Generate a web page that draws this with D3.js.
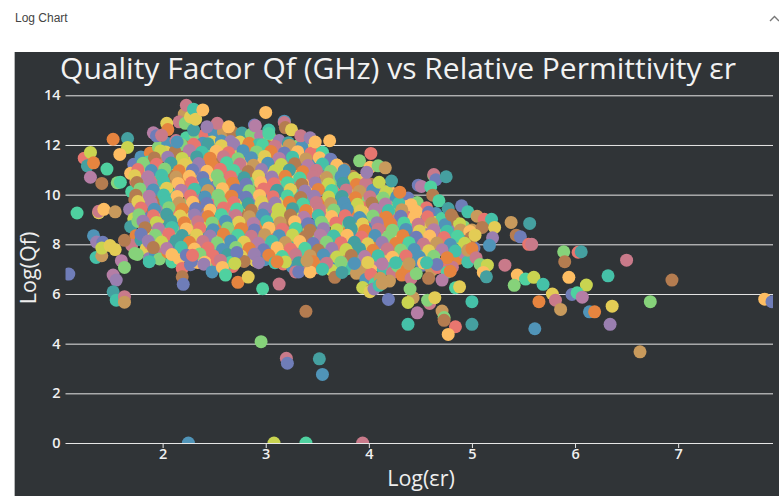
<!DOCTYPE html>
<html><head><meta charset="utf-8">
<script src="https://cdnjs.cloudflare.com/ajax/libs/d3/7.8.5/d3.min.js"></script>
<style>
html,body{margin:0;padding:0;background:#fff;overflow:hidden}
svg{display:block}
.tick text{font-family:"Open Sans",sans-serif;font-weight:600;font-size:14.5px;fill:#f0f0f0}
.domain{display:none}
</style></head><body>
<div id="chart"></div>
<script>
const chartTitle="Quality Factor Qf (GHz) vs Relative Permittivity εr";
const xLabel="Log(εr)", yLabel="Log(Qf)";
const xTicks=[2,3,4,5,6,7], yTicks=[0,2,4,6,8,10,12,14];
const palette=["#e8766f","#c97a8a","#b57ea5","#9a7fb0","#6f7db8","#5094b8","#45a0a0","#45c1a8","#4fd1a0","#86d27a","#c9d450","#e3cc55","#fdbd62","#e6843f","#b47c50","#c89a5c"];
const toneCycle=[4,12,0,8,14,3,10,6,13,1,9,5,11,2,7,15,12,4,9,0,6,11,3,13,8,1,15,5,10,14,2,7,12,0,5,9,13];
// dense body of the cloud: [log er, log Qf]
const cloud=[
[1.72,11.22],[1.69,10.86],[1.74,10.51],[1.70,10.12],[1.73,9.78],[1.68,9.41],[1.72,9.03],[1.69,8.71],[1.74,8.34],[1.70,7.96],[1.73,7.63],
[1.79,11.52],[1.81,11.13],[1.77,10.79],[1.80,10.38],[1.83,10.02],[1.78,9.66],[1.81,9.28],[1.76,8.92],[1.82,8.55],[1.79,8.18],[1.84,7.82],[1.87,7.43],
[1.88,11.68],[1.86,11.31],[1.91,10.94],[1.87,10.61],[1.90,10.23],[1.85,9.87],[1.89,9.49],[1.92,9.12],[1.87,8.76],[1.91,8.37],[1.88,8.02],[1.93,7.62],
[1.96,11.91],[1.98,11.56],[1.94,11.18],[1.99,10.82],[1.95,10.47],[1.98,10.09],[1.94,9.73],[2.00,9.34],[1.96,8.98],[1.99,8.61],[1.95,8.24],[2.00,7.86],[1.97,7.41],
[2.05,12.06],[2.03,11.72],[2.07,11.36],[2.04,11.01],[2.08,10.63],[2.03,10.27],[2.06,9.91],[2.09,9.53],[2.04,9.17],[2.07,8.79],[2.03,8.42],[2.08,8.06],[2.05,7.68],[2.09,7.29],
[2.13,12.18],[2.16,11.83],[2.12,11.47],[2.15,11.09],[2.11,10.74],[2.17,10.38],[2.13,10.01],[2.16,9.64],[2.12,9.26],[2.15,8.88],[2.11,8.53],[2.17,8.17],[2.13,7.79],[2.16,7.42],[2.19,7.03],
[2.23,12.29],[2.21,11.94],[2.25,11.58],[2.22,11.22],[2.26,10.86],[2.20,10.49],[2.24,10.12],[2.27,9.77],[2.21,9.39],[2.25,9.02],[2.22,8.64],[2.26,8.28],[2.20,7.91],[2.24,7.53],[2.27,7.18],
[2.32,12.38],[2.30,12.03],[2.34,11.67],[2.29,11.31],[2.33,10.93],[2.36,10.57],[2.30,10.21],[2.34,9.83],[2.31,9.46],[2.35,9.11],[2.29,8.73],[2.33,8.37],[2.36,7.98],[2.30,7.63],[2.34,7.27],
[2.41,12.42],[2.39,12.07],[2.43,11.73],[2.40,11.36],[2.44,10.99],[2.38,10.64],[2.42,10.26],[2.45,9.91],[2.39,9.54],[2.43,9.17],[2.40,8.81],[2.44,8.42],[2.38,8.07],[2.42,7.71],[2.45,7.33],
[2.50,12.48],[2.48,12.12],[2.52,11.77],[2.49,11.41],[2.53,11.04],[2.47,10.68],[2.51,10.31],[2.54,9.94],[2.48,9.58],[2.52,9.21],[2.49,8.84],[2.53,8.47],[2.47,8.11],[2.51,7.76],[2.54,7.39],
[2.59,12.52],[2.57,12.16],[2.61,11.81],[2.58,11.44],[2.62,11.08],[2.56,10.71],[2.60,10.36],[2.63,9.98],[2.57,9.62],[2.61,9.26],[2.58,8.88],[2.62,8.52],[2.56,8.16],[2.60,7.79],[2.63,7.43],
[2.68,12.51],[2.66,12.14],[2.70,11.79],[2.67,11.42],[2.71,11.06],[2.65,10.69],[2.69,10.34],[2.72,9.97],[2.66,9.61],[2.70,9.24],[2.67,8.87],[2.71,8.51],[2.65,8.13],[2.69,7.77],[2.72,7.41],[2.68,7.11],
[2.77,12.48],[2.75,12.12],[2.79,11.76],[2.76,11.39],[2.80,11.03],[2.74,10.66],[2.78,10.31],[2.81,9.94],[2.75,9.57],[2.79,9.22],[2.76,8.84],[2.80,8.48],[2.74,8.12],[2.78,7.74],[2.81,7.38],
[2.86,12.43],[2.84,12.07],[2.88,11.71],[2.85,11.36],[2.89,10.98],[2.83,10.62],[2.87,10.26],[2.90,9.89],[2.84,9.53],[2.88,9.16],[2.85,8.79],[2.89,8.43],[2.83,8.07],[2.87,7.71],[2.90,7.34],
[2.95,12.36],[2.93,12.01],[2.97,11.64],[2.94,11.28],[2.98,10.92],[2.92,10.56],[2.96,10.19],[2.99,9.82],[2.93,9.46],[2.97,9.09],[2.94,8.73],[2.98,8.36],[2.92,8.01],[2.96,7.63],[2.99,7.38],
[3.04,12.31],[3.02,11.94],[3.06,11.58],[3.03,11.22],[3.07,10.86],[3.01,10.49],[3.05,10.13],[3.08,9.76],[3.02,9.39],[3.06,9.03],[3.03,8.67],[3.07,8.31],[3.01,7.94],[3.05,7.58],
[3.13,12.18],[3.11,11.83],[3.15,11.47],[3.12,11.11],[3.16,10.74],[3.10,10.38],[3.14,10.02],[3.17,9.66],[3.11,9.29],[3.15,8.92],[3.12,8.56],[3.16,8.19],[3.10,7.83],[3.14,7.47],[3.17,7.21],
[3.22,12.09],[3.20,11.73],[3.24,11.36],[3.21,11.01],[3.25,10.64],[3.19,10.28],[3.23,9.91],[3.26,9.54],[3.20,9.18],[3.24,8.82],[3.21,8.46],[3.25,8.09],[3.19,7.72],[3.23,7.36],[3.26,7.08],
[3.31,11.96],[3.29,11.59],[3.33,11.23],[3.30,10.87],[3.34,10.51],[3.28,10.14],[3.32,9.77],[3.35,9.41],[3.29,9.04],[3.33,8.68],[3.30,8.32],[3.34,7.96],[3.28,7.59],[3.32,7.23],
[3.40,11.88],[3.38,11.49],[3.42,11.13],[3.39,10.77],[3.43,10.41],[3.37,10.04],[3.41,9.68],[3.44,9.31],[3.38,8.96],[3.42,8.59],[3.39,8.22],[3.43,7.86],[3.37,7.49],[3.41,7.18],
[3.49,11.63],[3.47,11.28],[3.51,10.92],[3.48,10.55],[3.52,10.19],[3.46,9.83],[3.50,9.46],[3.53,9.11],[3.47,8.73],[3.51,8.37],[3.48,8.01],[3.52,7.64],[3.46,7.28],[3.50,7.06],
[3.58,11.49],[3.56,11.12],[3.60,10.76],[3.57,10.39],[3.61,10.03],[3.55,9.67],[3.59,9.31],[3.62,8.94],[3.56,8.58],[3.60,8.21],[3.57,7.85],[3.61,7.49],[3.55,7.13],
[3.67,11.22],[3.65,10.87],[3.69,10.51],[3.66,10.14],[3.70,9.78],[3.64,9.41],[3.68,9.06],[3.71,8.69],[3.65,8.32],[3.69,7.96],[3.66,7.61],[3.70,7.24],[3.64,6.96],
[3.76,11.03],[3.74,10.66],[3.78,10.31],[3.75,9.94],[3.79,9.58],[3.73,9.22],[3.77,8.86],[3.80,8.48],[3.74,8.12],[3.78,7.76],[3.75,7.39],[3.79,7.02],
[3.84,10.74],[3.83,10.37],[3.87,10.02],[3.84,9.66],[3.88,9.29],[3.82,8.93],[3.86,8.57],[3.89,8.21],[3.83,7.84],[3.87,7.47],[3.84,7.11],[3.88,6.83],
[3.93,10.58],[3.92,10.22],[3.96,9.86],[3.93,9.49],[3.97,9.13],[3.91,8.76],[3.95,8.39],[3.98,8.03],[3.92,7.67],[3.96,7.31],[3.93,6.95],[3.97,6.58],[3.94,6.26],
[4.02,10.42],[4.01,10.06],[4.05,9.69],[4.02,9.33],[4.06,8.97],[4.00,8.61],[4.04,8.24],[4.07,7.88],[4.01,7.52],[4.05,7.15],[4.02,6.79],[4.06,6.41],[4.03,6.17],
[4.11,10.26],[4.10,9.89],[4.14,9.53],[4.11,9.17],[4.15,8.81],[4.09,8.44],[4.13,8.07],[4.16,7.71],[4.10,7.36],[4.14,6.99],[4.11,6.63],
[4.20,10.13],[4.19,9.76],[4.23,9.39],[4.20,9.03],[4.24,8.67],[4.18,8.31],[4.22,7.94],[4.25,7.58],[4.19,7.21],[4.23,6.86],[4.20,6.52],
[4.29,10.04],[4.28,9.66],[4.32,9.29],[4.29,8.93],[4.33,8.57],[4.27,8.21],[4.31,7.84],[4.34,7.48],[4.28,7.12],[4.32,6.76],
[4.38,9.86],[4.37,9.52],[4.41,9.16],[4.38,8.79],[4.42,8.43],[4.36,8.07],[4.40,7.71],[4.43,7.34],[4.37,6.98],[4.41,6.63],
[4.47,9.68],[4.46,9.33],[4.50,8.97],[4.47,8.61],[4.51,8.24],[4.45,7.88],[4.49,7.52],[4.52,7.16],[4.46,6.82],
[4.56,9.47],[4.55,9.11],[4.59,8.75],[4.56,8.39],[4.60,8.03],[4.54,7.67],[4.58,7.31],[4.61,6.96],
[4.65,9.24],[4.64,8.88],[4.68,8.52],[4.65,8.16],[4.69,7.79],[4.63,7.43],[4.67,7.07],
[4.74,9.06],[4.73,8.67],[4.77,8.31],[4.74,7.94],[4.78,7.58],[4.72,7.21],[4.76,6.88],
[4.83,8.91],[4.82,8.52],[4.86,8.16],[4.83,7.79],[4.87,7.43],[4.81,7.08],
[4.92,8.71],[4.91,8.36],[4.95,8.02],[4.92,7.66],[4.96,7.29],
[5.00,8.58],[4.99,8.21],[5.02,7.86]
];
// second pass through the same body, read row by row
const cloudRows=[
[2.18,12.02],[2.31,11.98],[2.44,12.05],[2.57,11.97],[2.69,12.03],[2.83,11.96],[2.97,12.01],[3.09,11.95],[3.23,11.99],[3.35,11.93],
[1.98,11.76],[2.12,11.72],[2.26,11.78],[2.38,11.71],[2.52,11.75],[2.64,11.69],[2.78,11.77],[2.91,11.72],[3.05,11.74],[3.18,11.68],[3.31,11.73],[3.44,11.67],[3.55,11.71],
[1.92,11.48],[2.05,11.51],[2.19,11.46],[2.33,11.52],[2.46,11.47],[2.59,11.53],[2.73,11.45],[2.86,11.49],[2.99,11.54],[3.13,11.46],[3.26,11.51],[3.39,11.44],[3.52,11.49],[3.63,11.43],
[1.81,11.26],[1.94,11.22],[2.08,11.27],[2.21,11.21],[2.35,11.25],[2.48,11.19],[2.62,11.28],[2.75,11.23],[2.88,11.18],[3.02,11.26],[3.15,11.21],[3.28,11.24],[3.41,11.17],[3.55,11.23],[3.69,11.19],
[1.76,11.01],[1.89,10.97],[2.02,11.03],[2.16,10.96],[2.29,10.99],[2.43,10.94],[2.56,11.02],[2.69,10.97],[2.83,10.93],[2.96,11.01],[3.09,10.96],[3.23,10.99],[3.36,10.92],[3.49,10.98],[3.63,10.94],[3.76,10.97],
[1.73,10.76],[1.86,10.72],[1.99,10.78],[2.13,10.71],[2.26,10.74],[2.39,10.69],[2.53,10.77],[2.66,10.72],[2.79,10.68],[2.93,10.75],[3.06,10.71],[3.19,10.74],[3.33,10.67],[3.46,10.73],[3.59,10.69],[3.73,10.72],[3.86,10.66],
[1.75,10.49],[1.88,10.46],[2.01,10.52],[2.15,10.45],[2.28,10.48],[2.41,10.43],[2.55,10.51],[2.68,10.46],[2.81,10.42],[2.95,10.49],[3.08,10.44],[3.21,10.48],[3.35,10.41],[3.48,10.47],[3.61,10.43],[3.75,10.46],[3.88,10.41],[3.97,10.44],
[1.78,10.23],[1.91,10.19],[2.04,10.26],[2.18,10.18],[2.31,10.22],[2.44,10.17],[2.58,10.24],[2.71,10.19],[2.84,10.16],[2.98,10.23],[3.11,10.18],[3.24,10.21],[3.38,10.15],[3.51,10.21],[3.64,10.17],[3.78,10.19],[3.91,10.14],[4.04,10.18],[4.17,10.12],
[1.74,9.98],[1.87,9.94],[2.01,9.99],[2.14,9.93],[2.27,9.96],[2.41,9.91],[2.54,9.98],[2.67,9.94],[2.81,9.89],[2.94,9.97],[3.07,9.92],[3.21,9.95],[3.34,9.88],[3.47,9.94],[3.61,9.91],[3.74,9.93],[3.87,9.87],[4.01,9.92],[4.14,9.86],[4.27,9.91],
[1.76,9.72],[1.89,9.67],[2.03,9.73],[2.16,9.66],[2.29,9.69],[2.43,9.64],[2.56,9.72],[2.69,9.68],[2.83,9.63],[2.96,9.71],[3.09,9.66],[3.23,9.69],[3.36,9.62],[3.49,9.68],[3.63,9.64],[3.76,9.67],[3.89,9.61],[4.03,9.66],[4.16,9.62],[4.29,9.65],[4.41,9.59],
[1.79,9.46],[1.92,9.41],[2.06,9.47],[2.19,9.41],[2.32,9.44],[2.46,9.38],[2.59,9.46],[2.72,9.42],[2.86,9.37],[2.99,9.45],[3.12,9.41],[3.26,9.43],[3.39,9.36],[3.52,9.42],[3.66,9.38],[3.79,9.41],[3.92,9.35],[4.06,9.41],[4.19,9.36],[4.32,9.39],[4.46,9.33],[4.58,9.29],
[1.77,9.19],[1.91,9.15],[2.04,9.21],[2.17,9.14],[2.31,9.18],[2.44,9.12],[2.57,9.19],[2.71,9.16],[2.84,9.11],[2.97,9.18],[3.11,9.13],[3.24,9.17],[3.37,9.09],[3.51,9.16],[3.64,9.12],[3.77,9.15],[3.91,9.08],[4.04,9.14],[4.17,9.09],[4.31,9.13],[4.44,9.07],[4.57,9.11],[4.71,9.04],[4.82,9.02],
[1.81,8.93],[1.94,8.88],[2.08,8.94],[2.21,8.87],[2.34,8.91],[2.48,8.86],[2.61,8.93],[2.74,8.89],[2.88,8.84],[3.01,8.92],[3.14,8.87],[3.28,8.91],[3.41,8.83],[3.54,8.89],[3.68,8.86],[3.81,8.88],[3.94,8.82],[4.08,8.87],[4.21,8.83],[4.34,8.86],[4.48,8.81],[4.61,8.85],[4.74,8.79],[4.88,8.83],
[1.83,8.67],[1.96,8.63],[2.09,8.68],[2.23,8.62],[2.36,8.65],[2.49,8.59],[2.63,8.66],[2.76,8.63],[2.89,8.58],[3.03,8.66],[3.16,8.61],[3.29,8.64],[3.43,8.57],[3.56,8.63],[3.69,8.59],[3.83,8.62],[3.96,8.56],[4.09,8.61],[4.23,8.57],[4.36,8.6],[4.49,8.54],[4.63,8.59],[4.76,8.53],[4.89,8.58],[4.98,8.52],
[1.79,8.41],[1.93,8.36],[2.06,8.42],[2.19,8.35],[2.33,8.38],[2.46,8.33],[2.59,8.41],[2.73,8.37],[2.86,8.32],[2.99,8.39],[3.13,8.34],[3.26,8.38],[3.39,8.31],[3.53,8.37],[3.66,8.33],[3.79,8.36],[3.93,8.29],[4.06,8.35],[4.19,8.31],[4.33,8.34],[4.46,8.28],[4.59,8.33],[4.73,8.27],[4.86,8.32],[4.99,8.26],
[1.86,8.13],[1.99,8.09],[2.13,8.14],[2.26,8.08],[2.39,8.11],[2.53,8.06],[2.66,8.13],[2.79,8.09],[2.93,8.04],[3.06,8.12],[3.19,8.07],[3.33,8.11],[3.46,8.03],[3.59,8.09],[3.73,8.06],[3.86,8.08],[3.99,8.02],[4.13,8.07],[4.26,8.03],[4.39,8.06],[4.53,8.01],[4.66,8.05],[4.79,7.99],[4.93,8.04],
[1.91,7.87],[2.04,7.83],[2.18,7.88],[2.31,7.81],[2.44,7.85],[2.58,7.79],[2.71,7.87],[2.84,7.83],[2.98,7.78],[3.11,7.86],[3.24,7.81],[3.38,7.84],[3.51,7.77],[3.64,7.83],[3.78,7.79],[3.91,7.82],[4.04,7.76],[4.18,7.81],[4.31,7.77],[4.44,7.79],[4.58,7.74],[4.71,7.78],[4.84,7.73],[4.96,7.76],
[2.09,7.59],[2.23,7.56],[2.36,7.61],[2.49,7.54],[2.63,7.58],[2.76,7.53],[2.89,7.6],[3.03,7.56],[3.16,7.51],[3.29,7.58],[3.43,7.54],[3.56,7.57],[3.69,7.49],[3.83,7.55],[3.96,7.51],[4.09,7.54],[4.23,7.48],[4.36,7.53],[4.49,7.49],[4.63,7.52],[4.76,7.46],
[2.28,7.31],[2.41,7.28],[2.53,7.33],[2.66,7.27],[2.79,7.31],[2.93,7.26],[3.19,7.29],[3.32,7.26],[3.46,7.3],[3.59,7.24],[3.73,7.28],[3.86,7.23],[3.99,7.27],[4.13,7.21],[4.26,7.26],[4.39,7.22],[4.53,7.25],[4.66,7.19]
];
// distinct edge points: [log er, log Qf, palette index]
const edge=[
[1.24,11.47,0],[1.27,11.16,6],[1.30,11.7,10],[1.33,11.28,13],[1.46,11.03,8],[1.30,10.7,2],[1.41,10.45,14],[1.52,12.23,13],[1.66,12.26,6],[1.66,11.9,10],[1.585,11.62,12],[1.56,10.48,9],[1.59,10.5,8],
[1.17,9.26,8],[1.09,6.8,4],[1.38,9.27,11],[1.38,9.33,1],[1.43,9.41,12],[1.54,9.31,15],[1.33,8.34,5],[1.36,8.09,3],[1.42,8.08,4],[1.355,7.47,7],[1.41,7.54,15],[1.41,7.85,10],[1.49,7.95,11],[1.54,7.79,11],[1.63,8.16,14],[1.60,7.34,2],[1.63,7.07,9],[1.52,6.76,2],[1.55,6.56,3],[1.52,6.09,6],[1.55,5.75,7],[1.63,5.89,1],[1.63,5.67,15],[1.755,7.59,9],[1.87,7.30,7],
[2.19,6.69,14],[2.20,6.39,4],[2.40,7.2,3],[2.48,6.89,5],[2.56,7.36,1],[2.58,7.07,12],[2.61,6.76,8],[2.29,7.56,0],[2.73,6.47,13],[2.83,6.68,11],[2.97,6.21,8],[3.13,6.4,1],[2.72,7.67,4],[2.70,7.23,10],[3.09,7.26,7],[3.11,7.30,13],[3.29,6.89,1],[3.32,6.89,4],[3.43,6.89,12],[3.40,7.34,15],[3.55,7.0,7],[3.67,6.67,14],[3.74,6.87,6],
[2.21,13.24,15],[2.16,12.93,1],[2.22,12.87,9],[2.23,13.6,1],[2.27,13.13,11],[2.30,12.6,6],[2.30,13.44,7],[2.32,13.04,11],[2.39,13.41,12],[2.04,12.87,11],[2.05,12.62,13],[1.91,12.49,2],[1.94,12.37,4],[1.99,12.39,1],[2.14,12.12,5],[2.53,12.87,1],[2.64,12.73,12],[2.43,12.73,3],
[3.0,13.31,12],[3.18,12.96,5],[3.18,12.9,1],[3.19,12.7,14],[3.25,12.61,11],[2.89,12.8,4],[2.90,12.77,2],[3.03,12.6,7],[3.03,12.46,8],[3.34,12.37,1],[3.43,12.29,3],[3.48,12.12,12],[3.62,12.17,12],
[3.91,11.36,9],[4.02,11.66,0],[4.01,11.1,12],[3.98,10.9,3],[4.09,11.16,9],[4.16,11.08,15],[4.22,10.55,6],[4.1,10.5,10],[4.3,10.1,13],
[4.63,10.76,9],[4.63,10.81,1],[4.65,10.6,4],[4.75,10.72,6],[4.48,10.38,4],[4.51,10.33,2],[4.60,10.31,8],[4.62,9.98,14],[4.68,9.75,8],[4.77,9.44,6],[4.90,9.55,4],[4.96,9.31,7],[4.80,9.18,14],[5.05,9.13,15],[5.12,9.01,0],[5.19,9.01,7],[5.10,8.68,14],[5.22,8.68,11],[5.38,8.88,15],[5.56,8.84,6],[5.43,8.37,14],[5.47,8.3,4],[5.55,8.0,0],[5.58,8.0,1],[5.20,8.26,3],[5.17,7.96,5],[5.03,8.37,11],[5.0,7.83,13],[5.04,7.46,1],[5.08,7.19,9],[5.15,7.16,10],[5.11,6.87,12],[5.14,6.69,6],[5.32,7.16,1],[5.44,6.76,12],[5.41,6.35,9],[5.52,6.6,8],[5.60,6.67,10],[5.69,6.39,7],
[5.0,5.69,7],[5.0,4.78,6],[4.84,6.25,8],[4.88,6.29,11],[4.59,5.62,1],[4.57,5.75,9],[4.64,5.85,11],[4.71,5.31,15],[4.73,5.05,9],[4.73,4.94,14],[4.84,4.68,0],[4.77,4.37,12],[4.38,4.78,7],[4.47,5.24,2],[4.19,5.78,4],[4.43,5.85,15],[4.38,5.66,10],[4.40,6.2,9],[4.58,6.63,14],[4.71,6.56,2],[4.56,7.26,7],[4.79,6.92,13],
[4.01,6.09,11],[4.05,6.2,3],[4.10,6.35,7],[4.13,6.43,15],[5.89,7.7,9],[5.90,7.30,14],[6.03,7.68,0],[6.06,7.7,6],[6.50,7.36,1],[6.32,6.73,7],[6.94,6.56,14],[5.94,6.67,12],[6.11,6.36,10],[5.78,6.0,11],[5.81,5.75,1],[5.86,5.38,15],[5.65,5.69,13],[5.97,5.98,4],[6.02,6.05,8],[6.07,5.87,2],[6.14,5.28,5],[6.19,5.28,13],[6.36,5.51,11],[6.34,4.78,3],[6.73,5.69,9],[6.63,3.67,15],[7.84,5.79,12],[7.91,5.69,4],[5.61,4.6,5],
[2.955,4.08,9],[3.20,3.41,1],[3.21,3.21,4],[3.52,3.39,6],[3.55,2.76,5],[3.39,5.3,14],[2.25,0,5],[3.08,0,10],[3.39,0,8],[3.94,0,1]
];

const W=779,H=496;
const svg=d3.select("#chart").append("svg").attr("width",W).attr("height",H);
svg.append("text").attr("x",15).attr("y",22).attr("font-family","Liberation Sans, Arial, sans-serif").attr("font-size",12).attr("fill","#444").text("Log Chart");
svg.append("path").attr("d","M770 21 L774.5 16.5 L779 21").attr("fill","none").attr("stroke","#777").attr("stroke-width",1.4);
svg.append("rect").attr("x",14).attr("y",52).attr("width",1).attr("height",H-52).attr("fill","#b5b7b8");
svg.append("rect").attr("x",15).attr("y",52).attr("width",W-15).attr("height",H-52).attr("fill","#303437");

const x=d3.scaleLinear().domain([1.058,7.92]).range([65.5,773]);
const y=d3.scaleLinear().domain([0,14]).range([443,95.3]);

svg.append("defs").append("clipPath").attr("id","plot").append("rect")
  .attr("x",x.range()[0]).attr("y",y.range()[1]).attr("width",x.range()[1]-x.range()[0]).attr("height",y.range()[0]-y.range()[1]);

const gy=svg.append("g").attr("transform",`translate(${x.range()[0]},0)`)
  .call(d3.axisLeft(y).tickValues(yTicks).tickFormat(d3.format("d")).tickSize(-(x.range()[1]-x.range()[0])).tickPadding(5));
gy.selectAll(".tick line").attr("stroke","#e6e6e6").attr("stroke-width",1);
const gx=svg.append("g").attr("transform",`translate(0,${y(0)})`)
  .call(d3.axisBottom(x).tickValues(xTicks).tickFormat(d3.format("d")).tickSize(5).tickPadding(1));
gx.selectAll(".tick line").attr("stroke","#e6e6e6");

const points=svg.append("g").attr("clip-path","url(#plot)");
points.selectAll("circle.c").data(cloud.concat(cloudRows)).join("circle").attr("class","c")
  .attr("cx",d=>x(d[0])).attr("cy",d=>y(d[1])).attr("r",6.5)
  .attr("fill",(d,i)=>palette[toneCycle[i%toneCycle.length]]);
points.selectAll("circle.e").data(edge).join("circle").attr("class","e")
  .attr("cx",d=>x(d[0])).attr("cy",d=>y(d[1])).attr("r",6.5)
  .attr("fill",d=>palette[d[2]]);

svg.append("text").attr("x",398).attr("y",79).attr("text-anchor","middle")
  .attr("font-family","Open Sans, sans-serif").attr("font-size",30).attr("fill","#f2f2f2").text(chartTitle);
svg.append("text").attr("x",421).attr("y",486).attr("text-anchor","middle")
  .attr("font-family","Open Sans, sans-serif").attr("font-size",21.5).attr("fill","#eeeeee").text(xLabel);
svg.append("text").attr("transform","translate(36,268) rotate(-90)").attr("text-anchor","middle")
  .attr("font-family","Open Sans, sans-serif").attr("font-size",21.5).attr("fill","#eeeeee").text(yLabel);
</script></body></html>
